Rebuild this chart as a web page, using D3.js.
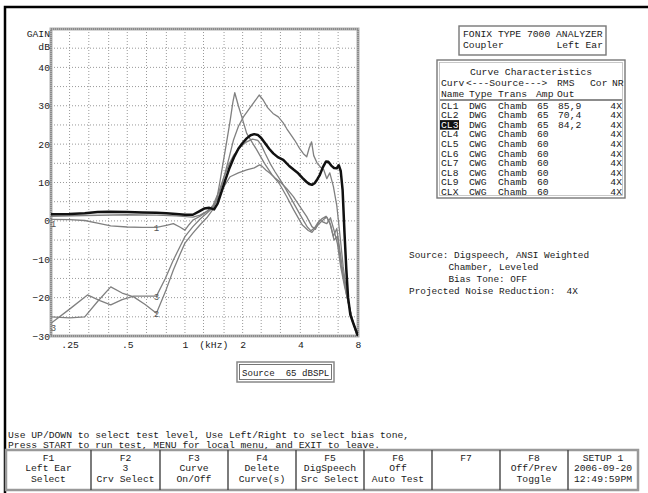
<!DOCTYPE html>
<html lang="en">
<head>
<meta charset="UTF-8">
<title>Fonix 7000 coupler gain</title>
<script src="https://cdn.jsdelivr.net/npm/d3@7"></script>
<style>
	body { margin: 0; background: #fff; }
	svg text {
		font-family: "Liberation Mono", "DejaVu Sans Mono", monospace;
		font-size: 9.7px;
		fill: #1a1a1a;
		white-space: pre;
	}
</style>
</head>
<body>
<svg id="chart" width="648" height="493"></svg>
<script>
// gain curves, [frequency kHz, gain dB]
const curveBlack = [[0.2,1.7],[0.25,1.8],[0.3,2.0],[0.35,2.3],[0.4,2.4],[0.5,2.3],[0.6,2.2],[0.71,2.1],[0.8,2.0],[0.9,1.8],[1.0,1.6],[1.1,1.6],[1.18,2.4],[1.26,3.2],[1.34,3.4],[1.42,3.0],[1.48,4.5],[1.55,7.5],[1.62,10.5],[1.7,13.5],[1.8,16.5],[1.9,18.8],[2.0,20.3],[2.1,21.5],[2.2,22.3],[2.3,22.6],[2.4,22.4],[2.5,21.6],[2.62,20.2],[2.75,18.8],[2.89,17.6],[3.05,16.6],[3.26,15.9],[3.5,14.3],[3.7,13.3],[3.9,12.4],[4.1,11.2],[4.3,10.2],[4.45,9.6],[4.6,9.4],[4.75,9.8],[4.9,10.8],[5.06,12.0],[5.25,14.0],[5.45,15.5],[5.6,15.4],[5.8,14.4],[6.0,13.8],[6.2,13.7],[6.35,14.5],[6.5,13.0],[6.65,8.0],[6.8,-3.0],[6.95,-12.5],[7.1,-20],[7.3,-24.5],[7.6,-27],[8,-30]];
const curveGray1 = [[0.2,0.4],[0.25,0.3],[0.3,0.1],[0.35,-0.6],[0.41,-1.3],[0.5,-1.6],[0.6,-1.7],[0.71,-1.7],[0.8,-1.2],[0.87,-0.7],[0.94,-1.6],[1.0,-2.4],[1.05,-1.0],[1.1,0.2],[1.2,1.2],[1.3,2.4],[1.4,4.0],[1.5,7.5],[1.6,11.5],[1.7,14.8],[1.8,17.2],[1.95,19.3],[2.1,20.6],[2.25,21.3],[2.4,21.0],[2.5,19.8],[2.62,17.6],[2.78,15.0],[2.95,12.8],[3.13,10.8],[3.35,8.4],[3.6,5.6],[3.85,3.0],[4.1,0.6],[4.35,-1.6],[4.55,-2.6],[4.75,-1.8],[4.95,-0.4],[5.2,0.6],[5.45,1.2],[5.7,-0.5],[5.95,-4.0],[6.2,-2.0],[6.45,-8.0],[6.7,-14],[6.95,-19],[7.25,-23],[7.6,-27],[8,-31]];
const curveGray2 = [[0.2,-25.0],[0.25,-25.3],[0.3,-25.0],[0.35,-21.0],[0.41,-17.2],[0.47,-18.8],[0.54,-19.8],[0.62,-21.8],[0.71,-24.1],[0.79,-18.5],[0.87,-12.8],[0.94,-8.8],[1.0,-5.8],[1.1,-3.2],[1.2,-1.0],[1.3,0.8],[1.4,3.0],[1.47,6.0],[1.52,10.0],[1.58,15.0],[1.65,20.5],[1.72,26.0],[1.78,31.0],[1.82,33.4],[1.9,30.0],[1.98,27.1],[2.1,22.8],[2.37,18.5],[2.6,15.0],[2.85,12.0],[3.1,9.8],[3.4,6.3],[3.7,2.8],[4.1,-1.1],[4.4,-2.5],[4.6,-3.0],[4.8,-1.8],[5.0,-0.8],[5.25,0.2],[5.5,1.0],[5.75,-1.0],[6.0,-5.0],[6.25,-4.0],[6.5,-11.0],[6.8,-16.0],[7.1,-21.0],[7.5,-26.0],[8,-30]];
const curveGray3 = [[0.2,-26.7],[0.25,-23.0],[0.31,-19.3],[0.36,-20.8],[0.41,-21.9],[0.47,-20.5],[0.54,-19.6],[0.62,-19.6],[0.71,-19.6],[0.79,-15.0],[0.87,-10.2],[0.94,-6.8],[1.0,-4.1],[1.1,-1.5],[1.2,0.5],[1.3,2.0],[1.4,3.5],[1.5,6.5],[1.6,11.5],[1.7,16.5],[1.79,21.0],[1.9,24.6],[2.02,27.1],[2.15,29.0],[2.3,31.0],[2.44,32.8],[2.56,31.5],[2.7,29.5],[2.88,28.0],[3.07,27.1],[3.25,25.6],[3.4,24.0],[3.53,22.8],[3.74,21.0],[3.95,19.0],[4.15,17.5],[4.32,16.7],[4.45,19.0],[4.58,20.6],[4.7,17.0],[4.9,15.0],[5.1,14.0],[5.3,13.3],[5.5,11.0],[5.7,12.5],[5.95,9.0],[6.2,4.0],[6.45,-4.0],[6.7,-12.0],[7.0,-19.0],[7.35,-24.5],[7.7,-28],[8,-30.5]];
const curveGray4 = [[0.2,1.2],[0.3,1.4],[0.5,1.6],[0.71,1.5],[0.9,1.3],[1.1,1.0],[1.2,1.5],[1.3,2.5],[1.4,3.8],[1.5,6.0],[1.6,9.0],[1.72,11.5],[1.9,12.5],[2.1,13.3],[2.3,13.8],[2.45,14.6],[2.53,14.2],[2.65,13.2],[2.78,12.4],[2.95,11.2],[3.13,10.2],[3.4,8.4],[3.68,6.3],[4.0,3.6],[4.32,1.1],[4.6,-1.5],[4.8,-2.2],[5.05,0.2],[5.3,-0.4],[5.5,-0.7],[5.75,0.8],[6.0,-2.5],[6.25,-6.0],[6.5,-12.0],[6.8,-17.0],[7.1,-21.0],[7.45,-26.0],[8,-29.5]];

// curve number markers: [curve, point index, label]
const curveMarkers = [["g1",0,"1"],["g1",7,"1"],["g2",8,"2"],["g3",0,"3"],["g3",8,"3"]];

// axes
const gainTicks = [-30,-20,-10,0,10,20,30,40];
const gridGains = [-25,-20,-15,-10,-5,0,5,10,15,20,25,30,35,40,45];
const freqTicks = [0.25,0.5,1,2,4,8];
const freqTickLabels = [".25",".5","1","2","4","8"];
const gridFreqs = [0.25,0.315,0.4,0.5,0.63,0.8,1,1.25,1.6,2,2.5,3.15,4,5,6.3];

// curve table
const tableNames = ["CL1","CL2","CL3","CL4","CL5","CL6","CL7","CL8","CL9","CLX"];
const tableTypes = ["DWG","DWG","DWG","CWG","CWG","CWG","CWG","CWG","CWG","CWG"];
const tableTrans = ["Chamb","Chamb","Chamb","Chamb","Chamb","Chamb","Chamb","Chamb","Chamb","Chamb"];
const tableAmp = ["65","65","65","60","60","60","60","60","60","60"];
const tableRms = ["85,9","70,4","84,2","","","","","","",""];
const tableNr = ["4X","4X","4X","4X","4X","4X","4X","4X","4X","4X"];

const sourceLines = ["Source: Digspeech, ANSI Weighted","       Chamber, Leveled","       Bias Tone: OFF","Projected Noise Reduction:  4X"];
const helpLines = ["Use UP/DOWN to select test level, Use Left/Right to select bias tone,","Press START to run test, MENU for local menu, and EXIT to leave."];

// function keys
const keyEdges = [6,91,160,228,296,364,432,500,568,638];
const keyTop = ["F1","F2","F3","F4","F5","F6","F7","F8","SETUP 1"];
const keyMid = ["Left Ear","3","Curve","Delete","DigSpeech","Off","","Off/Prev","2006-09-20"];
const keyBot = ["Select","Crv Select","On/Off","Curve(s)","Src Select","Auto Test","","Toggle","12:49:59PM"];

const svg = d3.select("#chart");

// outer screen frame
svg.append("path").attr("d", "M5,493V7H648").attr("fill", "none")
	.attr("stroke", "#000").attr("stroke-width", 2.5);

const x = d3.scaleLog().domain([0.2, 8]).range([51, 358]);
const y = d3.scaleLinear().domain([-30, 50]).range([336, 29]);

const plot = svg.append("g");

plot.append("clipPath").attr("id", "clip").append("rect")
	.attr("x", x.range()[0]).attr("y", y.range()[1])
	.attr("width", x.range()[1] - x.range()[0]).attr("height", y.range()[0] - y.range()[1]);

// dotted grid
plot.selectAll(".vgrid").data(gridFreqs).enter().append("line")
	.attr("x1", d => x(d)).attr("x2", d => x(d))
	.attr("y1", y.range()[0]).attr("y2", y.range()[1])
	.attr("stroke", "#999").attr("stroke-dasharray", "1 2");
plot.selectAll(".hgrid").data(gridGains).enter().append("line")
	.attr("y1", d => y(d)).attr("y2", d => y(d))
	.attr("x1", x.range()[0]).attr("x2", x.range()[1])
	.attr("stroke", "#999").attr("stroke-dasharray", "1 2");

// frame of plot
const fr = { x: x.range()[0], y: y.range()[1], w: x.range()[1] - x.range()[0], h: y.range()[0] - y.range()[1] };
plot.append("rect").attr("x", fr.x).attr("y", fr.y).attr("width", fr.w).attr("height", fr.h)
	.attr("fill", "none").attr("stroke", "#b0b0b0").attr("stroke-width", 3);
plot.append("rect").attr("x", fr.x).attr("y", fr.y).attr("width", fr.w).attr("height", fr.h)
	.attr("fill", "none").attr("stroke", "#666").attr("stroke-width", 1).attr("stroke-dasharray", "1 1");

// axes
plot.append("g").attr("transform", `translate(${x.range()[0]},0)`)
	.call(d3.axisLeft(y).tickValues(gainTicks).tickSize(0).tickPadding(1).tickFormat(d3.format("d")))
	.call(g => g.select(".domain").remove());
plot.append("g").attr("transform", `translate(0,${y.range()[0]})`)
	.call(d3.axisBottom(x).tickValues(freqTicks).tickSize(0).tickPadding(5).tickFormat((d, i) => freqTickLabels[i]))
	.call(g => g.select(".domain").remove());
plot.append("text").attr("x", x(Math.SQRT2)).attr("y", 348).attr("text-anchor", "middle").text("(kHz)");
plot.append("text").attr("x", 50).attr("y", 37).attr("text-anchor", "end").text("GAIN");
plot.append("text").attr("x", 50).attr("y", 50).attr("text-anchor", "end").text("dB");

// curves
const line = d3.line().x(d => x(d[0])).y(d => y(d[1]));
const curves = { g1: curveGray1, g2: curveGray2, g3: curveGray3, g4: curveGray4 };
const cg = plot.append("g").attr("clip-path", "url(#clip)");
[curveGray4, curveGray1, curveGray3, curveGray2].forEach(c => {
	cg.append("path").attr("d", line(c)).attr("fill", "none")
		.attr("stroke", "#808080").attr("stroke-width", 1.3).attr("stroke-linejoin", "round");
});
cg.append("path").attr("d", line(curveBlack)).attr("fill", "none")
	.attr("stroke", "#111").attr("stroke-width", 2.5).attr("stroke-linejoin", "round");

plot.selectAll(".marker").data(curveMarkers).enter().append("text")
	.attr("x", d => x(curves[d[0]][d[1]][0]) + (d[1] === 0 ? 2.5 : 0))
	.attr("y", d => y(curves[d[0]][d[1]][1]) + (d[1] === 0 ? 8 : 4))
	.attr("text-anchor", "middle").style("fill", "#555").style("font-size", "9px")
	.text(d => d[2]);

// source level box
svg.append("rect").attr("x", 237).attr("y", 362).attr("width", 97).attr("height", 20)
	.attr("fill", "none").attr("stroke", "#888").attr("stroke-width", 1.5);
svg.append("rect").attr("x", 239.5).attr("y", 364.5).attr("width", 92).attr("height", 15)
	.attr("fill", "none").attr("stroke", "#555").attr("stroke-width", 0.8);
svg.append("text").attr("x", 242).attr("y", 375.5).style("font-size", "9.1px").text("Source  65 dBSPL");

// analyzer box
svg.append("rect").attr("x", 459).attr("y", 26).attr("width", 147).attr("height", 29)
	.attr("fill", "none").attr("stroke", "#777").attr("stroke-width", 1.4);
svg.append("text").attr("x", 463).attr("y", 37).text("FONIX TYPE 7000 ANALYZER");
svg.append("text").attr("x", 463).attr("y", 47.5).text("Coupler");
svg.append("text").attr("x", 603).attr("y", 47.5).attr("text-anchor", "end").text("Left Ear");

// curve table
const tb = svg.append("g");
tb.append("rect").attr("x", 437).attr("y", 60).attr("width", 188).attr("height", 138)
	.attr("fill", "none").attr("stroke", "#777").attr("stroke-width", 1.4);
tb.append("rect").attr("x", 439.5).attr("y", 62.5).attr("width", 183).attr("height", 133)
	.attr("fill", "none").attr("stroke", "#bbb").attr("stroke-width", 0.8);
tb.append("text").attr("x", 531).attr("y", 75).attr("text-anchor", "middle").text("Curve Characteristics");
[["Curv",441],["<---Source--->",466],["RMS",557],["Cor",590],["NR",612]].forEach(h =>
	tb.append("text").attr("x", h[1]).attr("y", 86).text(h[0]));
[["Name",441],["Type",469],["Trans",498],["Amp",536],["Out",557]].forEach(h =>
	tb.append("text").attr("x", h[1]).attr("y", 97).text(h[0]));
tb.append("line").attr("x1", 440).attr("x2", 622).attr("y1", 100).attr("y2", 100)
	.attr("stroke", "#666").attr("stroke-width", 1.5);

const rowY = i => 108.8 + i * 9.55;
tb.append("rect").attr("x", 440).attr("y", rowY(2) - 7.8).attr("width", 19).attr("height", 9.6).attr("fill", "#111");
tableNames.forEach((n, i) => {
	tb.append("text").attr("x", 441).attr("y", rowY(i)).style("fill", i === 2 ? "#fff" : null).text(n);
	tb.append("text").attr("x", 469).attr("y", rowY(i)).text(tableTypes[i]);
	tb.append("text").attr("x", 498).attr("y", rowY(i)).text(tableTrans[i]);
	tb.append("text").attr("x", 537).attr("y", rowY(i)).text(tableAmp[i]);
	tb.append("text").attr("x", 558).attr("y", rowY(i)).text(tableRms[i]);
	tb.append("text").attr("x", 622).attr("y", rowY(i)).attr("text-anchor", "end").text(tableNr[i]);
});

// source description
sourceLines.forEach((t, i) =>
	svg.append("text").attr("x", 409).attr("y", 258 + i * 12).style("font-size", "9.4px").text(t));

// help text
helpLines.forEach((t, i) =>
	svg.append("text").attr("x", 8).attr("y", 437.5 + i * 10).text(t));

// function key bar
svg.append("rect").attr("x", keyEdges[0]).attr("y", 450).attr("width", keyEdges[9] - keyEdges[0]).attr("height", 40)
	.attr("fill", "none").attr("stroke", "#999").attr("stroke-width", 2.5);
keyEdges.slice(1, -1).forEach(e =>
	svg.append("line").attr("x1", e).attr("x2", e).attr("y1", 450).attr("y2", 490)
		.attr("stroke", "#444").attr("stroke-width", 1.4));
keyTop.forEach((t, i) => {
	const cx = (keyEdges[i] + keyEdges[i + 1]) / 2;
	svg.append("text").attr("x", cx).attr("y", 460.5).attr("text-anchor", "middle").text(t);
	svg.append("text").attr("x", cx).attr("y", 471).attr("text-anchor", "middle").text(keyMid[i]);
	svg.append("text").attr("x", cx).attr("y", 482).attr("text-anchor", "middle").text(keyBot[i]);
});
</script>
</body>
</html>
